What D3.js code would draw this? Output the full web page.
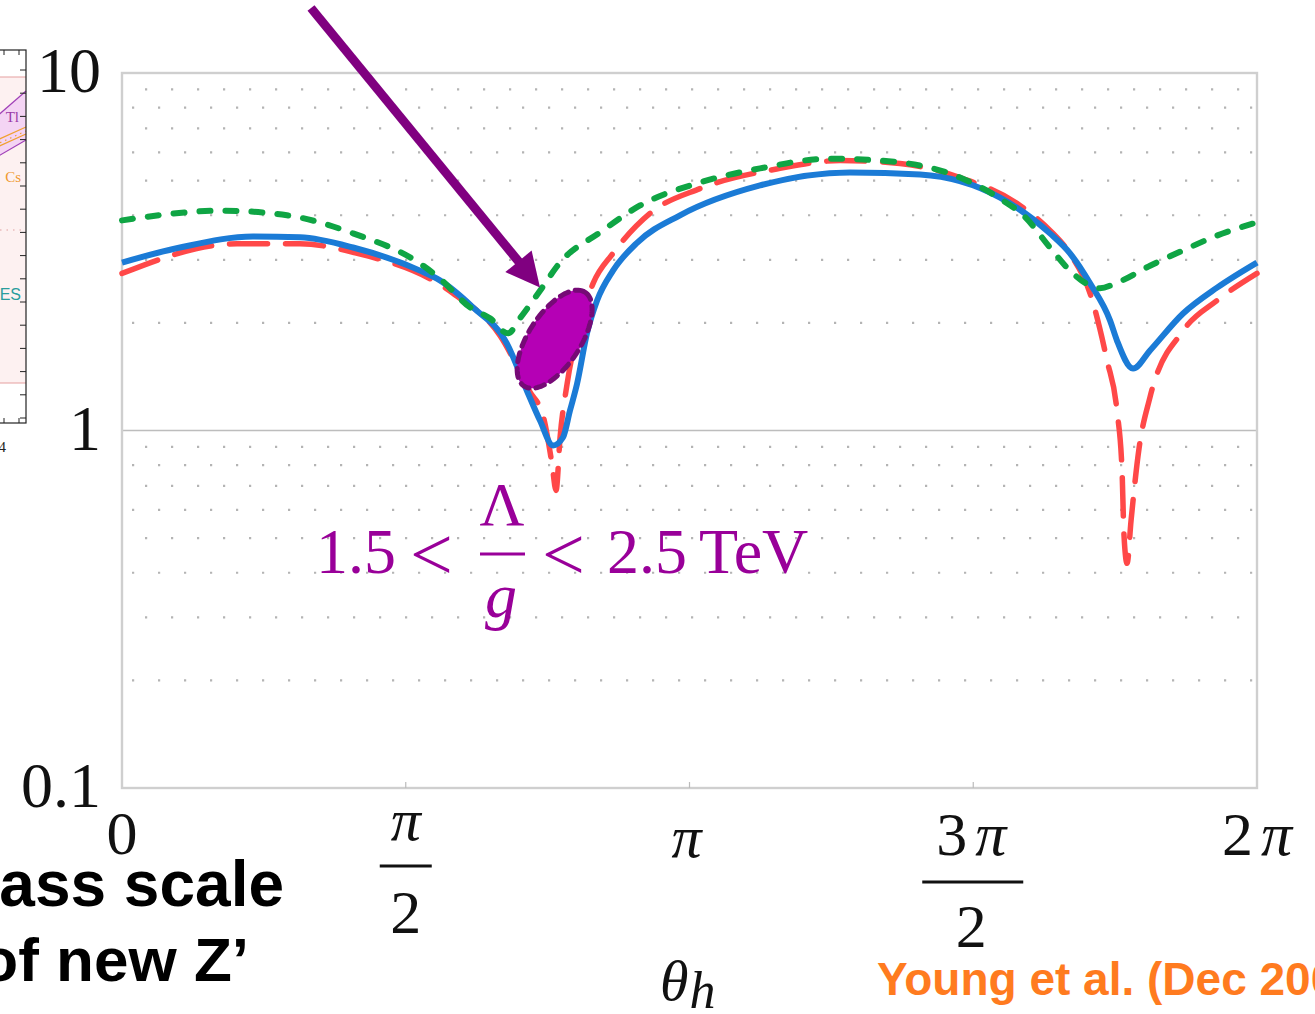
<!DOCTYPE html>
<html>
<head>
<meta charset="utf-8">
<script src="https://cdn.jsdelivr.net/npm/d3@7"></script>
<style>
  body { margin: 0; background: #fff; }
  svg { display: block; }
</style>
</head>
<body>
<svg id="chart" width="1315" height="1014"></svg>
<script>
// Mixing-angle dependence of the Z' sensitivity; theta_h in radians
const thetaBlue = [0, 0.321, 0.725, 0.985, 1.279, 1.650, 1.760, 1.943, 2.131, 2.242, 2.314, 2.386, 2.441, 2.480, 2.519, 2.574, 2.630, 2.718, 2.851, 3.089, 3.532, 4.030, 4.418, 4.861, 5.137, 5.248, 5.359, 5.470, 5.508, 5.597, 5.691, 5.874, 6.062, 6.283];
const valueBlue = [2.95, 3.25, 3.49, 3.47, 3.25, 2.80, 2.63, 2.21, 1.75, 1.29, 1.066, 0.908, 0.956, 1.137, 1.35, 1.87, 2.31, 2.80, 3.35, 4.0, 4.85, 5.27, 5.20, 4.48, 3.56, 3.13, 2.58, 2.03, 1.785, 1.49, 1.675, 2.125, 2.51, 2.95];

const thetaRed = [0, 0.637, 0.985, 1.279, 1.832, 2.093, 2.259, 2.331, 2.380, 2.403, 2.425, 2.464, 2.524, 2.608, 2.718, 2.923, 3.200, 3.643, 3.975, 4.307, 4.639, 4.971, 5.137, 5.248, 5.359, 5.453, 5.508, 5.536, 5.547, 5.564, 5.586, 5.630, 5.691, 5.874, 6.062, 6.283];
const valueRed = [2.75, 3.33, 3.33, 3.15, 2.42, 1.84, 1.28, 1.10, 0.809, 0.68, 0.956, 1.35, 1.90, 2.58, 3.13, 4.05, 4.75, 5.41, 5.69, 5.58, 5.10, 4.26, 3.63, 3.12, 2.42, 1.57, 1.137, 0.773, 0.508, 0.425, 0.56, 0.89, 1.24, 1.90, 2.31, 2.75];

const thetaGreen = [0, 0.554, 0.913, 1.279, 1.650, 1.760, 1.927, 2.037, 2.137, 2.203, 2.314, 2.425, 2.646, 2.868, 3.200, 3.532, 3.919, 4.307, 4.639, 4.861, 5.000, 5.137, 5.248, 5.359, 5.414, 5.508, 5.691, 5.874, 6.062, 6.283];
const valueGreen = [3.87, 4.12, 4.00, 3.56, 2.93, 2.66, 2.21, 2.06, 1.87, 2.06, 2.46, 2.95, 3.58, 4.26, 4.94, 5.41, 5.76, 5.62, 5.10, 4.45, 3.95, 3.25, 2.80, 2.545, 2.50, 2.59, 2.89, 3.19, 3.51, 3.82];

// Allowed region for 1.5 < Lambda/g < 2.5 TeV (centre in data units)
const regionTheta = [2.395];
const regionValue = [1.80];

const yTickValues = [10, 1, 0.1];
const yTickLabels = ["10", "1", "0.1"];
const xTickValues = [0, Math.PI / 2, Math.PI, 3 * Math.PI / 2, 2 * Math.PI];

const svg = d3.select("#chart");
const serif = "'Liberation Serif', 'DejaVu Serif', serif";
const sans = "'Liberation Sans', Arial, sans-serif";

const plot = { left: 122, right: 1257, top: 73, bottom: 788 };
const x = d3.scaleLinear().domain([0, 2 * Math.PI]).range([plot.left, plot.right]);
const y = d3.scaleLog().domain([0.1, 10]).range([plot.bottom, plot.top]);

// ---- inset fragment of the neighbouring figure (left edge) ----
const inset = svg.append("g");
svg.append("clipPath").attr("id", "insetClip")
  .append("rect").attr("x", 0).attr("y", 0).attr("width", 28).attr("height", 470);
inset.attr("clip-path", "url(#insetClip)");
inset.append("rect").attr("x", -200).attr("y", 77).attr("width", 226).attr("height", 306)
  .attr("fill", "#fdf1f1");
inset.append("line").attr("x1", -200).attr("x2", 26).attr("y1", 77).attr("y2", 77)
  .attr("stroke", "#e6a0a0").attr("stroke-width", 1.2);
inset.append("line").attr("x1", -200).attr("x2", 26).attr("y1", 383).attr("y2", 383)
  .attr("stroke", "#e6a0a0").attr("stroke-width", 1.2);
inset.append("line").attr("x1", 0).attr("x2", 26).attr("y1", 230).attr("y2", 230)
  .attr("stroke", "#e0a0a0").attr("stroke-width", 1.2).attr("stroke-dasharray", "1.5,5");
inset.append("path").attr("d", "M-5,118 L26,91 L26,140 L-5,158 Z")
  .attr("fill", "#f4d4f4").attr("stroke", "none");
inset.append("path").attr("d", "M-5,118 L26,91").attr("stroke", "#a040b8").attr("stroke-width", 1.2);
inset.append("path").attr("d", "M-5,158 L26,140").attr("stroke", "#a040b8").attr("stroke-width", 1.2);
inset.append("path").attr("d", "M-5,141 L26,127").attr("stroke", "#f0a030").attr("stroke-width", 1.2);
inset.append("path").attr("d", "M-5,148 L26,134").attr("stroke", "#f0a030").attr("stroke-width", 1.2);
inset.append("path").attr("d", "M-5,145 L26,131").attr("stroke", "#f0a030").attr("stroke-width", 1.2)
  .attr("stroke-dasharray", "1.5,4");
inset.append("text").attr("x", 19).attr("y", 122).attr("text-anchor", "end")
  .attr("font-family", serif).attr("font-size", 15).attr("fill", "#9a3aa8").text("Tl");
inset.append("text").attr("x", 21).attr("y", 182).attr("text-anchor", "end")
  .attr("font-family", serif).attr("font-size", 15).attr("fill", "#f09a30").text("Cs");
inset.append("text").attr("x", 21).attr("y", 300).attr("text-anchor", "end")
  .attr("font-family", sans).attr("font-size", 16).attr("fill", "#2a9d9d").text("ES");
inset.append("rect").attr("x", -200).attr("y", 50).attr("width", 226).attr("height", 373)
  .attr("fill", "none").attr("stroke", "#222").attr("stroke-width", 1.2);
d3.range(70, 420, 23.2).forEach(ty => {
  inset.append("line").attr("x1", 20).attr("x2", 26).attr("y1", ty).attr("y2", ty)
    .attr("stroke", "#222").attr("stroke-width", 1);
});
[4, 19].forEach(tx => {
  inset.append("line").attr("x1", tx).attr("x2", tx).attr("y1", 50).attr("y2", 55).attr("stroke", "#222");
  inset.append("line").attr("x1", tx).attr("x2", tx).attr("y1", 418).attr("y2", 423).attr("stroke", "#222");
});
inset.append("text").attr("x", 6).attr("y", 452).attr("text-anchor", "end")
  .attr("font-family", serif).attr("font-size", 15).attr("fill", "#222").text("4");

// ---- dotted minor grid (log decades) ----
const minorValues = [];
[0.1, 1].forEach(d => { for (let k = 2; k <= 9; k++) minorValues.push(d * k); });
const grid = svg.append("g");
minorValues.forEach((v, i) => {
  grid.append("line")
    .attr("x1", plot.left).attr("x2", plot.right)
    .attr("y1", y(v)).attr("y2", y(v))
    .attr("stroke", "#b4b4b4").attr("stroke-width", 2.2)
    .attr("stroke-dasharray", "2.2,23.8")
    .attr("stroke-dashoffset", i % 2 === 0 ? -10 : -23);
});
svg.append("line")
  .attr("x1", plot.left).attr("x2", plot.right)
  .attr("y1", y(1)).attr("y2", y(1))
  .attr("stroke", "#bdbdbd").attr("stroke-width", 1.6);

// ---- frame and ticks ----
svg.append("rect")
  .attr("x", plot.left).attr("y", plot.top)
  .attr("width", plot.right - plot.left).attr("height", plot.bottom - plot.top)
  .attr("fill", "none").attr("stroke", "#cfcfcf").attr("stroke-width", 2.4);
xTickValues.slice(1, 4).forEach(t => {
  svg.append("line").attr("x1", x(t)).attr("x2", x(t))
    .attr("y1", plot.bottom).attr("y2", plot.bottom - 6)
    .attr("stroke", "#bbb").attr("stroke-width", 1.2);
});

// ---- y tick labels ----
yTickValues.forEach((v, i) => {
  svg.append("text").attr("x", 101).attr("y", y(v) + 19)
    .attr("text-anchor", "end").attr("font-family", serif).attr("font-size", 64)
    .attr("fill", "#111").text(yTickLabels[i]);
});

// ---- x tick labels (fractions of pi) ----
const xl = svg.append("g").attr("font-family", serif).attr("fill", "#111").attr("text-anchor", "middle");
xl.append("text").attr("x", x(0)).attr("y", 854).attr("font-size", 62).text("0");
// pi/2
xl.append("text").attr("x", x(Math.PI / 2)).attr("y", 840).attr("font-size", 60)
  .attr("font-style", "italic").text("π");
xl.append("line").attr("x1", x(Math.PI / 2) - 26).attr("x2", x(Math.PI / 2) + 26)
  .attr("y1", 866).attr("y2", 866).attr("stroke", "#111").attr("stroke-width", 3);
xl.append("text").attr("x", x(Math.PI / 2)).attr("y", 933).attr("font-size", 62).text("2");
// pi
xl.append("text").attr("x", x(Math.PI) - 3).attr("y", 857).attr("font-size", 60)
  .attr("font-style", "italic").text("π");
// 3pi/2
const n3 = xl.append("text").attr("x", x(3 * Math.PI / 2) - 2).attr("y", 855).attr("font-size", 62);
n3.append("tspan").text("3");
n3.append("tspan").attr("dx", 8).attr("font-style", "italic").text("π");
xl.append("line").attr("x1", x(3 * Math.PI / 2) - 51).attr("x2", x(3 * Math.PI / 2) + 50)
  .attr("y1", 882).attr("y2", 882).attr("stroke", "#111").attr("stroke-width", 3);
xl.append("text").attr("x", x(3 * Math.PI / 2) - 2).attr("y", 947).attr("font-size", 62).text("2");
// 2pi
const n2 = xl.append("text").attr("x", x(2 * Math.PI)).attr("y", 855).attr("font-size", 62);
n2.append("tspan").text("2");
n2.append("tspan").attr("dx", 8).attr("font-style", "italic").text("π");

// axis title theta_h
const th = svg.append("text").attr("x", 660).attr("y", 1000)
  .attr("font-family", serif).attr("fill", "#111").attr("font-style", "italic");
th.append("tspan").attr("font-size", 58).text("θ");
th.append("tspan").attr("font-size", 52).attr("dx", 1).attr("dy", 8).text("h");

// ---- curves ----
const line = d3.line()
  .x(d => x(d[0])).y(d => y(d[1]))
  .curve(d3.curveMonotoneX);
const zip = (a, b) => a.map((t, i) => [t, b[i]]);

svg.append("path").datum(zip(thetaRed, valueRed))
  .attr("d", line).attr("fill", "none")
  .attr("stroke", "#ff4848").attr("stroke-width", 5.5)
  .attr("stroke-linecap", "round").attr("stroke-dasharray", "38,18");
svg.append("path").datum(zip(thetaBlue, valueBlue))
  .attr("d", line).attr("fill", "none")
  .attr("stroke", "#1b7bd6").attr("stroke-width", 6)
  .attr("stroke-linejoin", "round");
svg.append("path").datum(zip(thetaGreen, valueGreen))
  .attr("d", line).attr("fill", "none")
  .attr("stroke", "#0fa544").attr("stroke-width", 6)
  .attr("stroke-linecap", "round").attr("stroke-dasharray", "11,15");

// ---- allowed region (tilted ellipse about its data centre) ----
const cx = x(regionTheta[0]), cy = y(regionValue[0]);
const rx = 56, ry = 26, rot = -57 * Math.PI / 180;
const ell = d3.range(0, 2 * Math.PI + 0.001, Math.PI / 60).map(t => {
  const ex = rx * Math.cos(t), ey = ry * Math.sin(t);
  return [cx + ex * Math.cos(rot) - ey * Math.sin(rot), cy + ex * Math.sin(rot) + ey * Math.cos(rot)];
});
svg.append("path").attr("d", d3.line().curve(d3.curveLinearClosed)(ell))
  .attr("fill", "#b500b5").attr("stroke", "#760a76").attr("stroke-width", 5)
  .attr("stroke-linecap", "round").attr("stroke-dasharray", "9,7");

// ---- region label ----
const purple = "#990099";
const lab = svg.append("g").attr("font-family", serif).attr("fill", purple);
lab.append("text").attr("x", 316).attr("y", 573).attr("font-size", 64).text("1.5");
lab.append("text").attr("x", 410).attr("y", 580).attr("font-size", 76).text("<");
lab.append("text").attr("x", 502).attr("y", 525).attr("font-size", 62).attr("text-anchor", "middle").text("Λ");
lab.append("line").attr("x1", 480).attr("x2", 525).attr("y1", 554).attr("y2", 554)
  .attr("stroke", purple).attr("stroke-width", 3);
lab.append("text").attr("x", 501).attr("y", 617).attr("font-size", 64).attr("text-anchor", "middle")
  .attr("font-style", "italic").text("g");
lab.append("text").attr("x", 542).attr("y", 580).attr("font-size", 76).text("<");
const rt = lab.append("text").attr("x", 607).attr("y", 573).attr("font-size", 64);
rt.append("tspan").text("2.5");
rt.append("tspan").attr("dx", 12).text("TeV");

// ---- pointer arrow to the region ----
const tip = [x(2.314), y(2.51)];
const start = [311, 8];
const ang = Math.atan2(tip[1] - start[1], tip[0] - start[0]);
const ux = Math.cos(ang), uy = Math.sin(ang);
const back = [tip[0] - 34 * ux, tip[1] - 34 * uy];
svg.append("line").attr("x1", start[0]).attr("y1", start[1])
  .attr("x2", back[0] + 4 * ux).attr("y2", back[1] + 4 * uy)
  .attr("stroke", "#800080").attr("stroke-width", 9);
svg.append("path").attr("d", d3.line()([
  tip,
  [back[0] - 17 * uy, back[1] + 17 * ux],
  [back[0] + 17 * uy, back[1] - 17 * ux]
]) + "Z").attr("fill", "#800080");

// ---- slide captions ----
const cap = svg.append("g").attr("font-family", sans).attr("font-weight", "bold");
cap.append("text").attr("x", 284).attr("y", 906).attr("text-anchor", "end")
  .attr("font-size", 64).attr("fill", "#000").text("mass scale");
cap.append("text").attr("x", 249).attr("y", 981).attr("text-anchor", "end")
  .attr("font-size", 62).attr("fill", "#000").text("of new Z’");
cap.append("text").attr("x", 877).attr("y", 995)
  .attr("font-size", 46).attr("fill", "#ff7b1f").text("Young et al. (Dec 2007)");
</script>
</body>
</html>
